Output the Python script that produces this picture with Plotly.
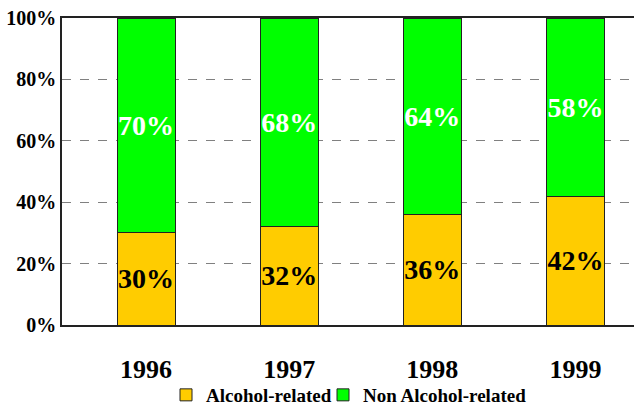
import plotly.graph_objects as go

years = ["1996", "1997", "1998", "1999"]
alcohol = [30, 32, 36, 42]
non_alcohol = [70, 68, 64, 58]
series_names = ["Alcohol-related", "Non Alcohol-related"]
y_ticks = [0, 20, 40, 60, 80, 100]

FONT = "Liberation Serif"

fig = go.Figure()
fig.add_trace(go.Bar(
    x=years, y=alcohol, name=series_names[0], legend="legend",
    marker=dict(color="#FFCC00", line=dict(color="#222222", width=1)),
    text=[f"{v}%" for v in alcohol], textposition="inside", textangle=0,
    insidetextanchor="middle", constraintext="none",
    textfont=dict(family=FONT, size=28, color="black", weight="bold"),
    width=0.405,
))
fig.add_trace(go.Bar(
    x=years, y=non_alcohol, name=series_names[1], legend="legend2",
    marker=dict(color="#00FF00", line=dict(color="#222222", width=1)),
    text=[f"{v}%" for v in non_alcohol], textposition="inside", textangle=0,
    insidetextanchor="middle", constraintext="none",
    textfont=dict(family=FONT, size=28, color="white", weight="bold"),
    width=0.405,
))

leg_common = dict(orientation="h", xanchor="left", y=-0.228, yanchor="middle",
                  font=dict(family=FONT, size=19, weight="bold"),
                  itemwidth=30, bgcolor="rgba(0,0,0,0)")

fig.update_layout(
    barmode="stack",
    width=634, height=407,
    margin=dict(l=62, r=0, t=18, b=82, autoexpand=False),
    paper_bgcolor="white", plot_bgcolor="white",
    font=dict(family=FONT, color="black"),
    showlegend=True,
    legend=dict(x=(166 - 62) / 572, **leg_common),
    legend2=dict(x=(323 - 62) / 572, **leg_common),
    xaxis=dict(
        type="category", range=[-0.587, 3.409], automargin=False,
        showline=True, linecolor="#222222", linewidth=1.5, mirror=True,
        showgrid=False, ticks="",
        tickfont=dict(family=FONT, size=26, weight="bold"),
        ticklabelstandoff=20,
    ),
    yaxis=dict(
        range=[0, 100], tickvals=y_ticks, ticktext=[f"{v}%" for v in y_ticks],
        automargin=False,
        showline=True, linecolor="#222222", linewidth=1.5,
        showgrid=True, gridcolor="#808080", griddash="dash", gridwidth=1,
        zeroline=False,
        tickfont=dict(family=FONT, size=20, weight="bold"),
    ),
)

fig.write_html("out.html", config={"displayModeBar": False},
               post_script="document.body.style.margin='0px';")
